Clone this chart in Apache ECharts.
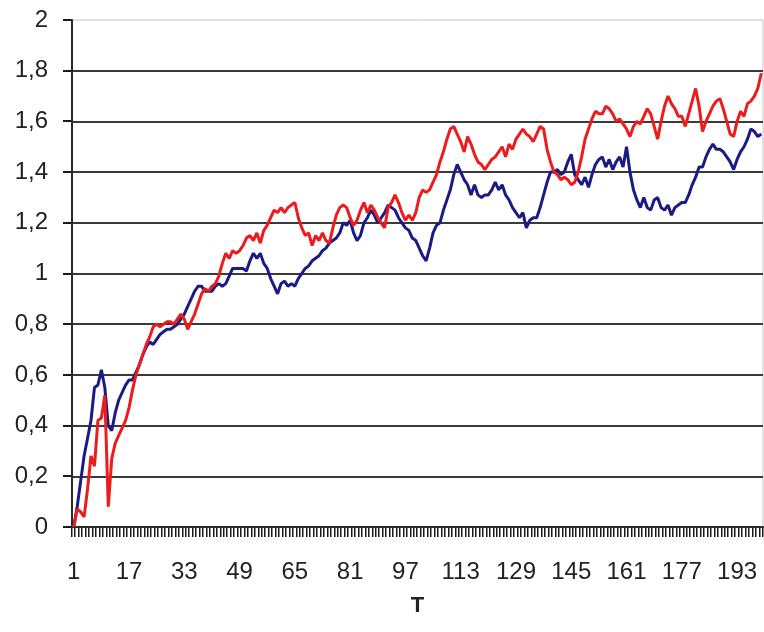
<!DOCTYPE html>
<html>
<head>
<meta charset="utf-8">
<script src="https://cdn.jsdelivr.net/npm/echarts@6/dist/echarts.min.js"></script>
<style>
  html, body { margin: 0; padding: 0; background: #fff; }
  #chart { width: 764px; height: 632px; }
</style>
</head>
<body>
<div id="chart"></div>
<script>
// x categories T = 1..200
var categories = [];
for (var t = 1; t <= 200; t++) categories.push(String(t));

var yTicks = { min: 0, max: 2, step: 0.2 };
var yTickValues = [0, 0.2, 0.4, 0.6, 0.8, 1, 1.2, 1.4, 1.6, 1.8, 2];

// red series
var redValues = [
  0.00, 0.07, 0.06, 0.04, 0.15, 0.28, 0.24, 0.42, 0.43, 0.52,
  0.08, 0.27, 0.33, 0.36, 0.39, 0.42, 0.47, 0.54, 0.60, 0.64,
  0.68, 0.72, 0.75, 0.79, 0.80, 0.79, 0.80, 0.81, 0.81, 0.80,
  0.82, 0.84, 0.82, 0.78, 0.81, 0.84, 0.88, 0.92, 0.94, 0.93,
  0.95, 0.96, 0.99, 1.04, 1.08, 1.06, 1.09, 1.08, 1.09, 1.11,
  1.14, 1.15, 1.13, 1.16, 1.12, 1.17, 1.19, 1.22, 1.25, 1.24,
  1.26, 1.24, 1.26, 1.27, 1.28, 1.22, 1.18, 1.15, 1.16, 1.11,
  1.15, 1.13, 1.16, 1.13, 1.12, 1.18, 1.23, 1.26, 1.27, 1.26,
  1.22, 1.19, 1.21, 1.25, 1.28, 1.24, 1.27, 1.25, 1.22, 1.20,
  1.18, 1.26, 1.28, 1.31, 1.28, 1.24, 1.21, 1.23, 1.21, 1.24,
  1.30, 1.33, 1.32, 1.33, 1.36, 1.39, 1.44, 1.48, 1.53, 1.57,
  1.58, 1.55, 1.52, 1.48, 1.54, 1.51, 1.47, 1.44, 1.43, 1.41,
  1.43, 1.45, 1.46, 1.48, 1.50, 1.46, 1.51, 1.49, 1.53, 1.55,
  1.57, 1.55, 1.54, 1.52, 1.55, 1.58, 1.57, 1.49, 1.44, 1.40,
  1.39, 1.37, 1.38, 1.37, 1.35, 1.36, 1.40, 1.46, 1.53, 1.57,
  1.61, 1.64, 1.63, 1.63, 1.66, 1.65, 1.63, 1.60, 1.61, 1.59,
  1.57, 1.54, 1.58, 1.60, 1.59, 1.62, 1.65, 1.63, 1.58, 1.53,
  1.60, 1.66, 1.70, 1.67, 1.65, 1.62, 1.62, 1.58, 1.63, 1.68,
  1.73, 1.66, 1.56, 1.60, 1.63, 1.66, 1.68, 1.69, 1.65, 1.60,
  1.55, 1.54, 1.60, 1.64, 1.62, 1.67, 1.68, 1.70, 1.73, 1.79
];

// blue series
var blueValues = [
  0.00, 0.08, 0.18, 0.28, 0.35, 0.42, 0.55, 0.56, 0.62, 0.55,
  0.40, 0.38, 0.45, 0.50, 0.53, 0.56, 0.58, 0.58, 0.61, 0.64,
  0.68, 0.71, 0.73, 0.72, 0.74, 0.76, 0.77, 0.78, 0.78, 0.79,
  0.80, 0.82, 0.84, 0.87, 0.90, 0.93, 0.95, 0.95, 0.93, 0.93,
  0.93, 0.95, 0.96, 0.95, 0.96, 0.99, 1.02, 1.02, 1.02, 1.02,
  1.01, 1.05, 1.08, 1.06, 1.08, 1.04, 1.02, 0.98, 0.95, 0.92,
  0.96, 0.97, 0.95, 0.96, 0.95, 0.98, 1.00, 1.02, 1.03, 1.05,
  1.06, 1.07, 1.09, 1.10, 1.12, 1.13, 1.14, 1.16, 1.20, 1.19,
  1.21, 1.16, 1.13, 1.15, 1.20, 1.22, 1.25, 1.23, 1.20, 1.22,
  1.24, 1.27, 1.26, 1.25, 1.22, 1.20, 1.18, 1.17, 1.14, 1.13,
  1.10, 1.07, 1.05, 1.10, 1.16, 1.19, 1.20, 1.25, 1.29, 1.33,
  1.39, 1.43, 1.40, 1.37, 1.35, 1.31, 1.35, 1.31, 1.30, 1.31,
  1.31, 1.33, 1.36, 1.33, 1.35, 1.31, 1.29, 1.26, 1.24, 1.22,
  1.24, 1.18, 1.21, 1.22, 1.22, 1.26, 1.31, 1.36, 1.40, 1.40,
  1.41, 1.39, 1.40, 1.44, 1.47, 1.39, 1.37, 1.35, 1.38, 1.34,
  1.39, 1.43, 1.45, 1.46, 1.42, 1.45, 1.41, 1.44, 1.46, 1.42,
  1.50, 1.40, 1.33, 1.29, 1.26, 1.30, 1.26, 1.25, 1.29, 1.30,
  1.26, 1.25, 1.27, 1.23, 1.26, 1.27, 1.28, 1.28, 1.31, 1.35,
  1.38, 1.42, 1.42, 1.46, 1.49, 1.51, 1.49, 1.49, 1.48, 1.46,
  1.44, 1.41, 1.45, 1.48, 1.50, 1.53, 1.57, 1.56, 1.54, 1.55
];

var chart = echarts.init(document.getElementById("chart"));

chart.setOption({
  animation: false,
  backgroundColor: "#fff",
  textStyle: { fontFamily: "Liberation Sans, Arial, sans-serif" },
  grid: {
    left: 72,
    right: 1,
    top: 20,
    bottom: 105,
    show: true,
    borderColor: "#c4c4c4",
    borderWidth: 1
  },
  xAxis: {
    type: "category",
    data: categories,
    boundaryGap: true,
    name: "T",
    nameLocation: "middle",
    nameGap: 68,
    nameTextStyle: { fontSize: 22, fontWeight: "bold", color: "#222" },
    axisLine: { lineStyle: { color: "#2a2a2a", width: 2 } },
    axisTick: { show: false },
    axisLabel: { interval: 15, margin: 33, fontSize: 24, color: "#222" },
    splitLine: { show: false }
  },
  yAxis: {
    type: "value",
    min: yTicks.min,
    max: yTicks.max,
    interval: yTicks.step,
    axisLine: { show: true, lineStyle: { color: "#2a2a2a", width: 2 } },
    axisTick: { show: false },
    axisLabel: {
      margin: 24,
      fontSize: 24,
      color: "#222",
      formatter: function (v) {
        return String(Math.round(v * 10) / 10).replace(".", ",");
      }
    },
    splitLine: {
      show: true,
      showMaxLine: false,
      lineStyle: { color: "#3a3a3a", width: 2 }
    }
  },
  series: [
    {
      name: "blue",
      type: "line",
      data: blueValues,
      showSymbol: false,
      symbol: "none",
      lineStyle: { color: "#1b1b86", width: 3 },
      itemStyle: { color: "#1b1b86" }
    },
    {
      name: "red",
      type: "line",
      data: redValues,
      showSymbol: false,
      symbol: "none",
      lineStyle: { color: "#ec1c1c", width: 3 },
      itemStyle: { color: "#ec1c1c" }
    }
  ]
});

// tick marks drawn as graphics, placed through the axes' own scales
var x0 = chart.convertToPixel({ xAxisIndex: 0 }, 0);
var band = chart.convertToPixel({ xAxisIndex: 0 }, 1) - x0;
var axisY = chart.convertToPixel({ yAxisIndex: 0 }, yTicks.min);
var axisX = x0 - band / 2;
var ticks = [];
for (var i = 0; i <= categories.length; i++) {
  var bx = Math.round(x0 + (i - 0.5) * band);
  ticks.push({
    type: "rect",
    shape: { x: bx - 1, y: axisY, width: 1.5, height: 10 },
    style: { fill: "#1a1a1a" }
  });
}
yTickValues.forEach(function (v) {
  var py = Math.round(chart.convertToPixel({ yAxisIndex: 0 }, v));
  ticks.push({
    type: "rect",
    shape: { x: axisX - 9, y: py - 1, width: 9, height: 2 },
    style: { fill: "#1a1a1a" }
  });
});
chart.setOption({
  graphic: [{ type: "group", silent: true, z: 10, children: ticks }]
});
</script>
</body>
</html>
